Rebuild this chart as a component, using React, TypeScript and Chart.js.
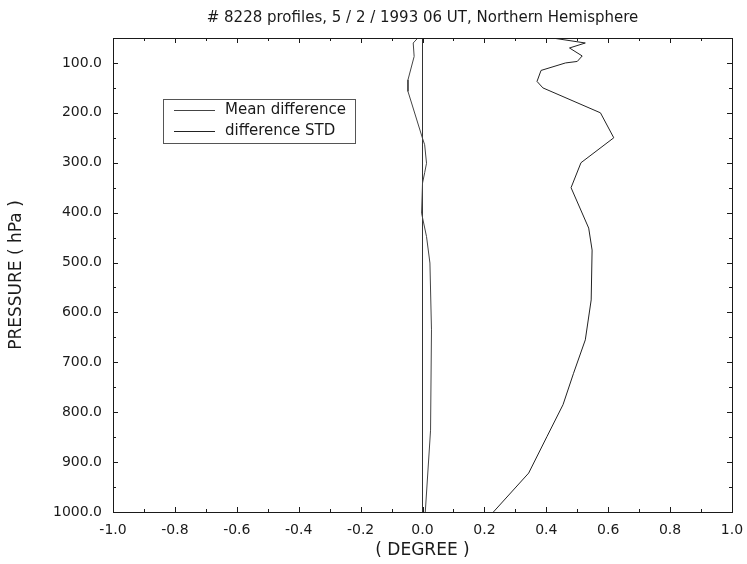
import React, { useEffect, useRef } from "react";
import { Chart, registerables } from "chart.js";

Chart.register(...registerables);

const TITLE = "# 8228 profiles, 5 / 2 / 1993 06 UT, Northern Hemisphere";
const X_TITLE = "( DEGREE )";
const Y_TITLE = "PRESSURE ( hPa )";
const SERIES_NAMES = ["Mean difference", "difference STD"];

const xTicks = [-1.0, -0.8, -0.6, -0.4, -0.2, 0.0, 0.2, 0.4, 0.6, 0.8, 1.0];
const xMinorTicks = [-0.9, -0.7, -0.5, -0.3, -0.1, 0.1, 0.3, 0.5, 0.7, 0.9];
const yTicks = [100, 200, 300, 400, 500, 600, 700, 800, 900, 1000];
const yMinorTicks = [50, 150, 250, 350, 450, 550, 650, 750, 850, 950];

const meanPressure = [50, 60, 87, 134, 157, 251, 264, 301, 320, 341, 401, 448, 501, 635, 836, 1000];
const meanValues = [-0.015, -0.03, -0.027, -0.047, -0.047, 0.0, 0.007, 0.013, 0.007, 0.0, -0.003, 0.013, 0.024, 0.029, 0.026, 0.009];

const stdPressure = [50, 60, 70, 86, 97, 100, 115, 137, 150, 200, 250, 300, 350, 431, 475, 575, 655, 722, 785, 849, 922, 1000];
const stdValues = [0.42, 0.526, 0.475, 0.516, 0.5, 0.462, 0.383, 0.37, 0.389, 0.575, 0.618, 0.512, 0.48, 0.537, 0.548, 0.545, 0.526, 0.488, 0.454, 0.402, 0.343, 0.229];

const zeroPressure = [50, 1000];
const zeroValues = [0, 0];

const FONT = "'DejaVu Sans', 'Liberation Sans', Arial, sans-serif";
const INK = "#1a1a1a";

const framePlugin = {
  id: "frameTicksLegend",
  afterDatasetsDraw(chart: any) {
    const { ctx, chartArea } = chart;
    const { left, right, top, bottom } = chartArea;
    const xs = chart.scales.x;
    const ys = chart.scales.y;
    ctx.save();
    ctx.strokeStyle = INK;
    ctx.lineWidth = 1;
    ctx.strokeRect(Math.round(left) + 0.5, Math.round(top) + 0.5, Math.round(right - left), Math.round(bottom - top));
    ctx.beginPath();
    const drawX = (v: number, len: number) => {
      const px = Math.round(xs.getPixelForValue(v)) + 0.5;
      ctx.moveTo(px, bottom);
      ctx.lineTo(px, bottom - len);
      ctx.moveTo(px, top);
      ctx.lineTo(px, top + len);
    };
    const drawY = (v: number, len: number) => {
      const py = Math.round(ys.getPixelForValue(v)) + 0.5;
      ctx.moveTo(left, py);
      ctx.lineTo(left + len, py);
      ctx.moveTo(right, py);
      ctx.lineTo(right - len, py);
    };
    xTicks.forEach((v) => drawX(v, 5));
    xMinorTicks.forEach((v) => drawX(v, 3));
    yTicks.forEach((v) => drawY(v, 5));
    yMinorTicks.forEach((v) => drawY(v, 3));
    ctx.stroke();

    // legend box inside plot
    const bx = 163, by = 99, bw = 192, bh = 44;
    ctx.strokeStyle = "#555";
    ctx.strokeRect(bx + 0.5, by + 0.5, bw, bh);
    ctx.font = `15px ${FONT}`;
    ctx.textBaseline = "middle";
    ctx.textAlign = "left";
    const items = chart.data.datasets.slice(0, 2);
    items.forEach((ds: any, i: number) => {
      const ly = by + 11 + i * 21 + 0.5;
      ctx.strokeStyle = ds.borderColor;
      ctx.lineWidth = 1;
      ctx.beginPath();
      ctx.moveTo(bx + 11, ly);
      ctx.lineTo(bx + 52, ly);
      ctx.stroke();
      ctx.fillStyle = INK;
      ctx.fillText(ds.label, bx + 62, ly);
    });
    ctx.restore();
  },
};

export default function App() {
  const ref = useRef<HTMLCanvasElement>(null);
  useEffect(() => {
    if (!ref.current) return;
    const mk = (ps: number[], vs: number[]) => ps.map((p, i) => ({ x: vs[i], y: p }));
    const chart = new Chart(ref.current, {
      type: "line",
      data: {
        datasets: [
          {
            label: SERIES_NAMES[0],
            data: mk(meanPressure, meanValues),
            borderColor: "#444",
            borderWidth: 1,
            pointRadius: 0,
            tension: 0,
            fill: false,
          },
          {
            label: SERIES_NAMES[1],
            data: mk(stdPressure, stdValues),
            borderColor: "#222",
            borderWidth: 1,
            pointRadius: 0,
            tension: 0,
            fill: false,
          },
          {
            label: "zero",
            data: mk(zeroPressure, zeroValues),
            borderColor: "#333",
            borderWidth: 1,
            pointRadius: 0,
            fill: false,
          },
        ],
      },
      options: {
        responsive: false,
        animation: false,
        devicePixelRatio: 1,
        layout: { padding: { left: 0, right: 15, top: 0, bottom: 0 } },
        plugins: {
          legend: { display: false },
          tooltip: { enabled: false },
          title: {
            display: true,
            text: TITLE,
            fullSize: false,
            color: INK,
            font: { family: FONT, size: 15, weight: "normal" },
            padding: { top: 9, bottom: 11 },
          },
        },
        scales: {
          x: {
            type: "linear",
            min: -1,
            max: 1,
            grid: { display: false, drawTicks: false },
            border: { display: false },
            afterBuildTicks: (s: any) => {
              s.ticks = xTicks.map((v) => ({ value: v }));
            },
            afterFit: (s: any) => {
              s.height = 52;
              s.paddingRight = 15;
            },
            ticks: {
              color: INK,
              padding: 10,
              maxRotation: 0,
              autoSkip: false,
              font: { family: FONT, size: 14 },
              callback: (v: any) => Number(v).toFixed(1),
            },
            title: {
              display: true,
              text: X_TITLE,
              color: INK,
              font: { family: FONT, size: 17 },
              padding: { top: 0, bottom: 3 },
            },
          },
          y: {
            type: "linear",
            reverse: true,
            min: 50,
            max: 1000,
            grid: { display: false, drawTicks: false },
            border: { display: false },
            afterBuildTicks: (s: any) => {
              s.ticks = yTicks.map((v) => ({ value: v }));
            },
            afterFit: (s: any) => {
              s.width = 113;
            },
            ticks: {
              color: INK,
              padding: 11,
              autoSkip: false,
              font: { family: FONT, size: 14 },
              callback: (v: any) => Number(v).toFixed(1),
            },
            title: {
              display: true,
              text: Y_TITLE,
              color: INK,
              font: { family: FONT, size: 17 },
              padding: { top: 6, bottom: 0 },
            },
          },
        },
      },
      plugins: [framePlugin],
    });
    return () => chart.destroy();
  }, []);
  return (
    <div style={{ position: "absolute", left: 0, top: 0, width: 747, height: 564, background: "#fff" }}>
      <canvas ref={ref} width={747} height={564} style={{ display: "block" }} />
    </div>
  );
}
